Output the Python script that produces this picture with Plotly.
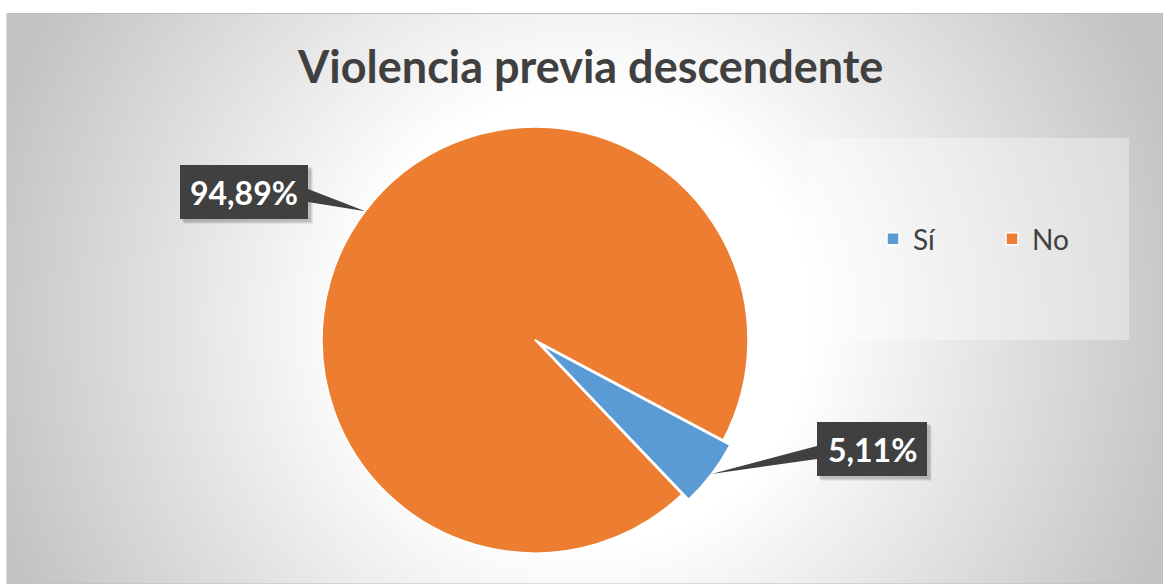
import base64
import math
import struct
import zlib

import numpy as np
import plotly.graph_objects as go

# ---- data -------------------------------------------------------------
title = "Violencia previa descendente"
categories = ["Sí", "No"]
shares = [5.11, 94.89]
slice_colors = ["#5B9BD5", "#ED7D31"]
slice_pull = [0.04, 0.0]

# ---- canvas / geometry (pixels) ---------------------------------------
W, H = 1163, 584
AREA = (7, 13, 1163, 584)           # chart area: x0, y0, x1, y1
CX, CY, R = 535, 340, 213           # pie centre and radius
ROTATION = 118                      # start angle of first slice, clockwise from 12 o'clock
LEGEND_BOX = (807, 138, 1129, 340)
LABEL_BOXES = [(817, 422, 927, 476), (180, 165, 308, 219)]   # one per category
INK = "#404040"
FONT = "Lato"


def px(x):
    return x / W


def py(y):
    return 1 - y / H


def png_uri(rgb):
    h, w, _ = rgb.shape
    raw = b"".join(b"\x00" + rgb[r].tobytes() for r in range(h))

    def chunk(tag, data):
        return (struct.pack(">I", len(data)) + tag + data
                + struct.pack(">I", zlib.crc32(tag + data) & 0xFFFFFFFF))

    png = (b"\x89PNG\r\n\x1a\n"
           + chunk(b"IHDR", struct.pack(">IIBBBBB", w, h, 8, 2, 0, 0, 0))
           + chunk(b"IDAT", zlib.compress(raw, 9))
           + chunk(b"IEND", b""))
    return "data:image/png;base64," + base64.b64encode(png).decode()


# radial background: white centre fading to grey towards the corners
ax0, ay0, ax1, ay1 = AREA
step = 2
gw, gh = (ax1 - ax0) // step, (ay1 - ay0) // step
gx = ax0 + (np.arange(gw) + 0.5) * step
gy = ay0 + (np.arange(gh) + 0.5) * step
X, Y = np.meshgrid(gx, gy)
dist = np.hypot(X - 585, Y - 320)
t = np.clip((dist - 230) / 390, 0, 1)
val = (255 - t * 60).astype(np.uint8)
bg = np.dstack([val, val, val])

fig = go.Figure()

half = R * (1 + max(slice_pull))
fig.add_trace(go.Pie(
    labels=categories,
    values=shares,
    sort=False,
    direction="clockwise",
    rotation=ROTATION,
    pull=slice_pull,
    marker=dict(colors=slice_colors, line=dict(color="#ffffff", width=1.5)),
    textinfo="none",
    hoverinfo="label+percent",
    domain=dict(x=[px(CX - half), px(CX + half)],
                y=[py(CY + half), py(CY - half)]),
))

shapes = [
    dict(type="rect", xref="paper", yref="paper", layer="below",
         x0=px(ax0), x1=px(ax1 - 0.5), y0=py(ay1), y1=py(ay0 + 0.5),
         line=dict(color="#bdbdbd", width=1), fillcolor="rgba(0,0,0,0)"),
    dict(type="rect", xref="paper", yref="paper", layer="below",
         x0=px(LEGEND_BOX[0]), x1=px(LEGEND_BOX[2]),
         y0=py(LEGEND_BOX[3]), y1=py(LEGEND_BOX[1]),
         line=dict(width=0), fillcolor="rgba(255,255,255,0.35)"),
]
annotations = [
    dict(text=f"<b>{title}</b>", xref="paper", yref="paper",
         x=px(590), y=py(66), xanchor="center", yanchor="middle",
         showarrow=False, font=dict(family=FONT, size=45, color=INK)),
]

# data labels: dark call-out boxes pointing at the middle of each slice
total = sum(shares)
cum = 0.0
for i, v in enumerate(shares):
    mid = math.radians(ROTATION + 360 * (cum + v / 2) / total)
    cum += v
    rr = R * (1 + slice_pull[i])
    tipx, tipy = CX + rr * math.sin(mid), CY - rr * math.cos(mid)
    bx0, by0, bx1, by1 = LABEL_BOXES[i]
    bcy = (by0 + by1) / 2
    base = bx1 if tipx > bx1 else bx0
    b_top, b_bot = bcy - 3, bcy + 10

    # soft shadow
    for k, a in ((5, 0.06), (4, 0.08), (3, 0.10)):
        shapes.append(dict(type="rect", xref="paper", yref="paper", layer="above",
                           x0=px(bx0 + k - 1), x1=px(bx1 + k), y0=py(by1 + k),
                           y1=py(by0 + k - 1), line=dict(width=0),
                           fillcolor=f"rgba(0,0,0,{a})"))
    shapes.append(dict(type="path", xref="paper", yref="paper", layer="above",
                       path=(f"M{px(base)},{py(b_top)} L{px(tipx)},{py(tipy)} "
                             f"L{px(base)},{py(b_bot)} Z"),
                       line=dict(width=0), fillcolor="#404040"))
    shapes.append(dict(type="rect", xref="paper", yref="paper", layer="above",
                       x0=px(bx0), x1=px(bx1), y0=py(by1), y1=py(by0),
                       line=dict(width=0), fillcolor="#404040"))
    label = f"{v:.2f}%".replace(".", ",")
    annotations.append(dict(text=f"<b>{label}</b>", xref="paper", yref="paper",
                            x=px((bx0 + bx1) / 2), y=py(bcy),
                            xanchor="center", yanchor="middle", showarrow=False,
                            font=dict(family=FONT, size=32, color="#ffffff")))

fig.update_layout(
    width=W, height=H,
    margin=dict(l=0, r=0, t=0, b=0),
    paper_bgcolor="#ffffff",
    font=dict(family=FONT, color=INK),
    images=[dict(source=png_uri(bg), xref="paper", yref="paper",
                 x=px(ax0), y=py(ay0), sizex=px(ax1) - px(ax0),
                 sizey=py(ay0) - py(ay1), xanchor="left", yanchor="top",
                 sizing="stretch", layer="below")],
    shapes=shapes,
    annotations=annotations,
    showlegend=True,
    legend=dict(orientation="h", x=px(873), y=py(239), xanchor="left",
                yanchor="middle", bgcolor="rgba(0,0,0,0)",
                font=dict(family=FONT, size=28, color=INK),
                entrywidth=74, entrywidthmode="pixels", traceorder="normal"),
)

fig.write_html("out.html")
